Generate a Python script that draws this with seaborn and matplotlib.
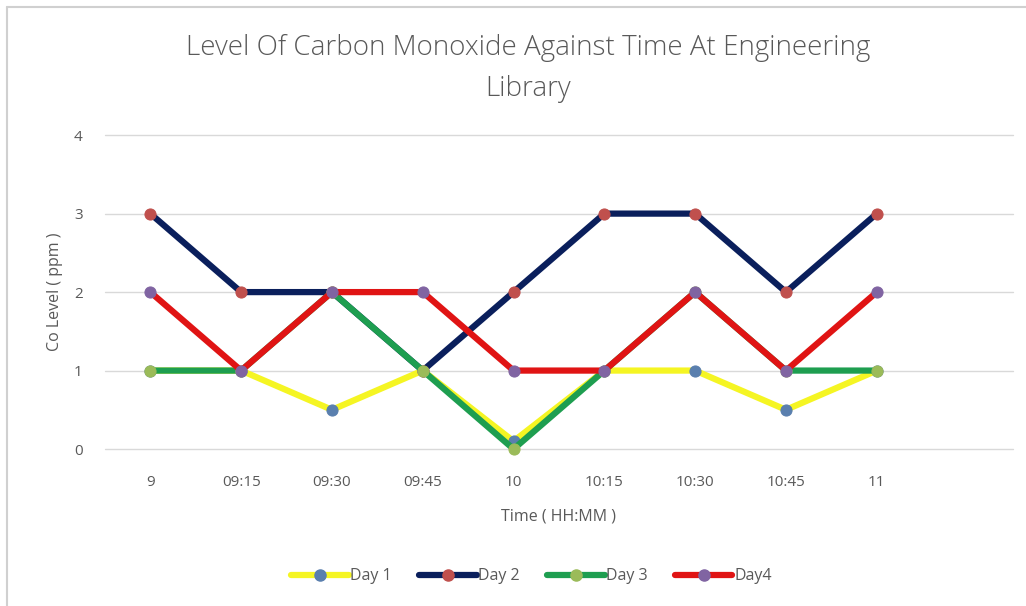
import matplotlib
matplotlib.use("Agg")
import matplotlib.pyplot as plt
import seaborn as sns
import pandas as pd
from matplotlib.lines import Line2D

times = ["9", "09:15", "09:30", "09:45", "10", "10:15", "10:30", "10:45", "11"]
day1 = [1, 1, 0.5, 1, 0.1, 1, 1, 0.5, 1]
day2 = [3, 2, 2, 1, 2, 3, 3, 2, 3]
day3 = [1, 1, 2, 1, 0, 1, 2, 1, 1]
day4 = [2, 1, 2, 2, 1, 1, 2, 1, 2]

series = ["Day 1", "Day 2", "Day 3", "Day4"]
line_colors = ["#f5f523", "#0a1f5c", "#1e9e50", "#e01414"]
marker_colors = ["#5a7fae", "#c0504d", "#9bbb59", "#8064a2"]

sns.set_style("white")
plt.rcParams["font.family"] = ["Open Sans", "DejaVu Sans"]

df = pd.DataFrame({"Time": times, "Day 1": day1, "Day 2": day2,
                   "Day 3": day3, "Day4": day4})
long = df.melt(id_vars="Time", var_name="Series", value_name="Level")
long["x"] = long["Time"].map({t: i for i, t in enumerate(times)})

fig = plt.figure(figsize=(10.26, 6.06), dpi=100)
ax = fig.add_axes([0.1023, 0.259, 0.885, 0.518])

for name, lc, mc in zip(series, line_colors, marker_colors):
    sub = long[long["Series"] == name]
    sns.lineplot(data=sub, x="x", y="Level", ax=ax, color=lc, linewidth=4.5,
                 marker="o", markersize=8, markerfacecolor=mc, markeredgecolor=mc,
                 solid_capstyle="round", legend=False, clip_on=False)

ax.set_xlim(-0.5, 9.5)
ax.set_ylim(0, 4)
ax.set_xticks(range(len(times)))
ax.set_xticklabels(times)
ax.set_yticks([0, 1, 2, 3, 4])
ax.grid(axis="y", color="#d9d9d9", linewidth=1)
for g in ax.yaxis.get_gridlines():
    g.set_clip_on(False)
ax.set_axisbelow(True)
for s in ax.spines.values():
    s.set_visible(False)
ax.tick_params(axis="both", length=0, labelsize=11, labelcolor="#595959")
ax.tick_params(axis="x", pad=19)
ax.tick_params(axis="y", pad=16)
ax.set_xlabel("Time ( HH:MM )", fontsize=11.5, color="#595959", labelpad=13)
ax.set_ylabel("Co Level ( ppm )", fontsize=11.5, color="#595959", labelpad=8)

fig.text(0.515, 0.921, "Level Of Carbon Monoxide Against Time At Engineering",
         ha="center", va="center", fontsize=20, color="#595959", fontweight="light")
fig.text(0.515, 0.853, "Library", ha="center", va="center", fontsize=20,
         color="#595959", fontweight="light")

handles = [Line2D([0], [0], color=lc, linewidth=4.5, marker="o", markersize=8,
                  markerfacecolor=mc, markeredgecolor=mc, solid_capstyle="round")
           for lc, mc in zip(line_colors, marker_colors)]
fig.legend(handles, series, loc="center", bbox_to_anchor=(0.518, 0.049), ncol=4,
           frameon=False, fontsize=11.5, handlelength=3.6, handletextpad=0.1,
           columnspacing=1.7, numpoints=1, labelcolor="#595959")

fig.add_artist(Line2D([7 / 1026, 7 / 1026], [0, 1 - 7 / 606], color="#d0d0d0",
                      linewidth=1.5, transform=fig.transFigure))
fig.add_artist(Line2D([7 / 1026, 1], [1 - 7 / 606, 1 - 7 / 606], color="#d0d0d0",
                      linewidth=1.5, transform=fig.transFigure))

fig.savefig("out.png", dpi=100, facecolor="white")
